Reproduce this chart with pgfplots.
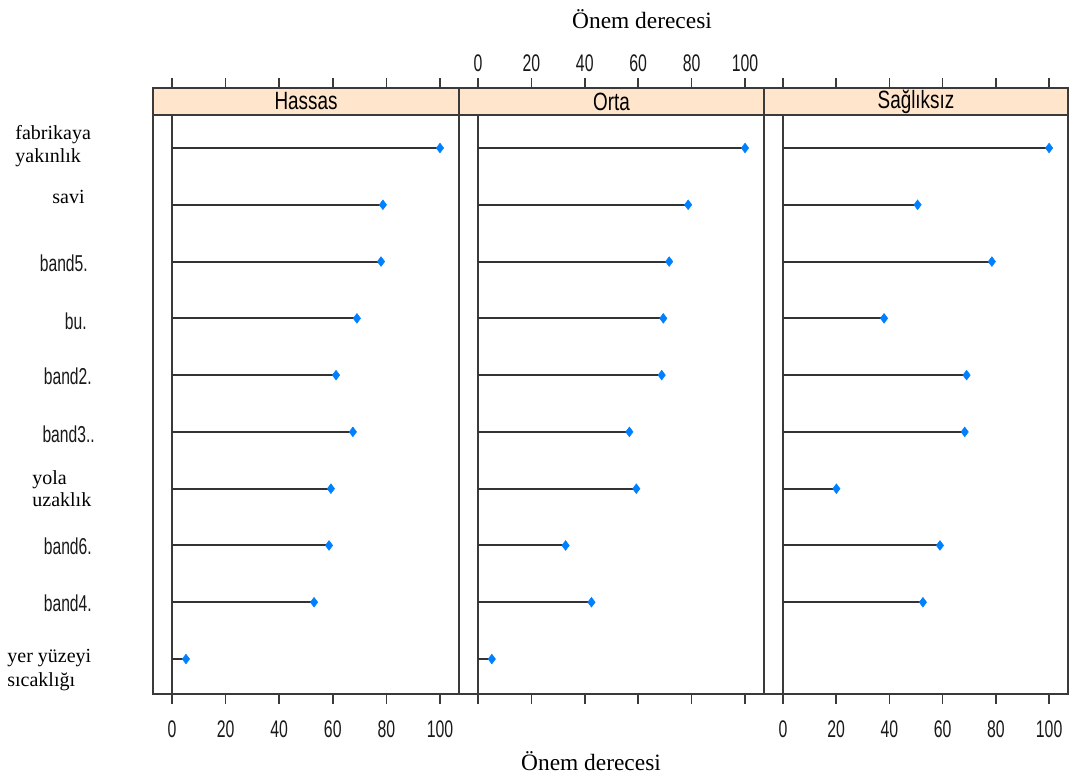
\documentclass[border=0pt]{standalone}
\usepackage{pgfplots}
\usepackage{pgfplotstable}
\pgfplotsset{compat=1.18}
\usepackage{fontspec}
\setmainfont{Liberation Serif}
\setsansfont{Liberation Sans}
\definecolor{stripc}{HTML}{FFE5CC}
\definecolor{markc}{HTML}{0080FF}
\definecolor{framec}{HTML}{3A3A3A}
\definecolor{stemc}{HTML}{333333}

% y: 10 fabrikaya yakinlik, 9 savi, 8 band5, 7 bu, 6 band2, 5 band3, 4 yola uzaklik, 3 band6, 2 band4, 1 yer yuzeyi sicakligi
\pgfplotstableread{
val y
100  10
78.7 9
78.0 8
69.0 7
61.2 6
67.5 5
59.3 4
58.6 3
53.0 2
5.2  1
}\hassas
\pgfplotstableread{
val y
100  10
78.7 9
71.6 8
69.4 7
68.8 6
56.7 5
59.3 4
32.8 3
42.5 2
5.2  1
}\orta
\pgfplotstableread{
val y
100  10
50.6 9
78.5 8
38.0 7
69.0 6
68.3 5
20.1 4
59.0 3
52.6 2
}\sagliksiz

\pgfplotsset{
  panel/.style={
    scale only axis, width=153pt, height=303pt,
    xmin=-7.1, xmax=107.1, ymin=0.384, ymax=11.057,
    axis line style={framec, line width=0.9pt},
    xtick={0,20,...,100}, ytick=\empty,
    tick align=outside, major tick length=5pt,
    tick style={framec, line width=0.8pt},
    xtick pos=both,
    tick label style={font=\sffamily\fontsize{12}{12}\selectfont, xscale=0.66, text=black!90},
    /pgf/number format/assume math mode=true,
    clip=false,
  },
  stem/.style={xcomb, draw=stemc, line width=1pt, mark=diamond*, mark size=2.4pt,
    mark options={fill=markc, draw=markc, line width=0.3pt}},
}
\newcommand\striplabel[1]{%
  \draw[framec, line width=0.9pt, fill=stripc] (rel axis cs:0,0.9554) rectangle (rel axis cs:1,1);
  \node[font=\sffamily\fontsize{12.5}{12.5}\selectfont, xscale=0.755] at (rel axis cs:0.5,0.9777) {#1};
  \draw[framec, line width=0.8pt] (axis cs:0,0.384) -- (axis cs:0,10.581);
}

\begin{document}
\begin{tikzpicture}
\begin{axis}[panel, at={(0pt,0pt)}, anchor=south west, xticklabel pos=lower,
  xticklabel style={yshift=-5pt}]
  \striplabel{Hassas}
  \addplot[stem] table[x=val, y=y] {\hassas};
\end{axis}
\begin{axis}[panel, width=152.5pt, at={(153pt,0pt)}, anchor=south west, xticklabel pos=upper,
  xticklabel style={yshift=-0.5pt}]
  \striplabel{Orta}
  \addplot[stem] table[x=val, y=y] {\orta};
\end{axis}
\begin{axis}[panel, width=152pt, at={(305.5pt,0pt)}, anchor=south west, xticklabel pos=lower,
  xticklabel style={yshift=-5pt}]
  \striplabel{Sağlıksız}
  \addplot[stem] table[x=val, y=y] {\sagliksiz};
\end{axis}

% row labels
\begin{scope}[every node/.style={inner sep=0pt, font=\fontsize{10}{11}\selectfont}]
  \node[anchor=base west] at (-69pt,277pt) {fabrikaya};
  \node[anchor=base west] at (-69pt,265.5pt) {yakınlık};
  \node[anchor=base east] at (-34pt,245pt) {savi};
  \node[anchor=base west] at (-60.5pt,104.5pt) {yola};
  \node[anchor=base west] at (-60.5pt,93.5pt) {uzaklık};
  \node[anchor=base west] at (-73pt,15.5pt) {yer yüzeyi};
  \node[anchor=base west] at (-73pt,3.5pt) {sıcaklığı};
\end{scope}
\begin{scope}[every node/.style={inner sep=0pt, font=\sffamily\fontsize{11.5}{11.5}\selectfont, xscale=0.68, text=black!90}]
  \node[anchor=base east] at (-32.5pt,211pt) {band5.};
  \node[anchor=base east] at (-33pt,182pt) {bu.};
  \node[anchor=base east] at (-30.5pt,154.5pt) {band2.};
  \node[anchor=base east] at (-29pt,125.5pt) {band3..};
  \node[anchor=base east] at (-30.5pt,69.5pt) {band6.};
  \node[anchor=base east] at (-30.5pt,41pt) {band4.};
\end{scope}

\node[font=\fontsize{11.7}{12}\selectfont] at (244.5pt,337.5pt) {Önem derecesi};
\node[font=\fontsize{11.7}{12}\selectfont] at (219pt,-33.5pt) {Önem derecesi};

\pgfresetboundingbox
\path (-76.5pt,-41.5pt) rectangle (459.5pt,347pt);
\end{tikzpicture}
\end{document}
